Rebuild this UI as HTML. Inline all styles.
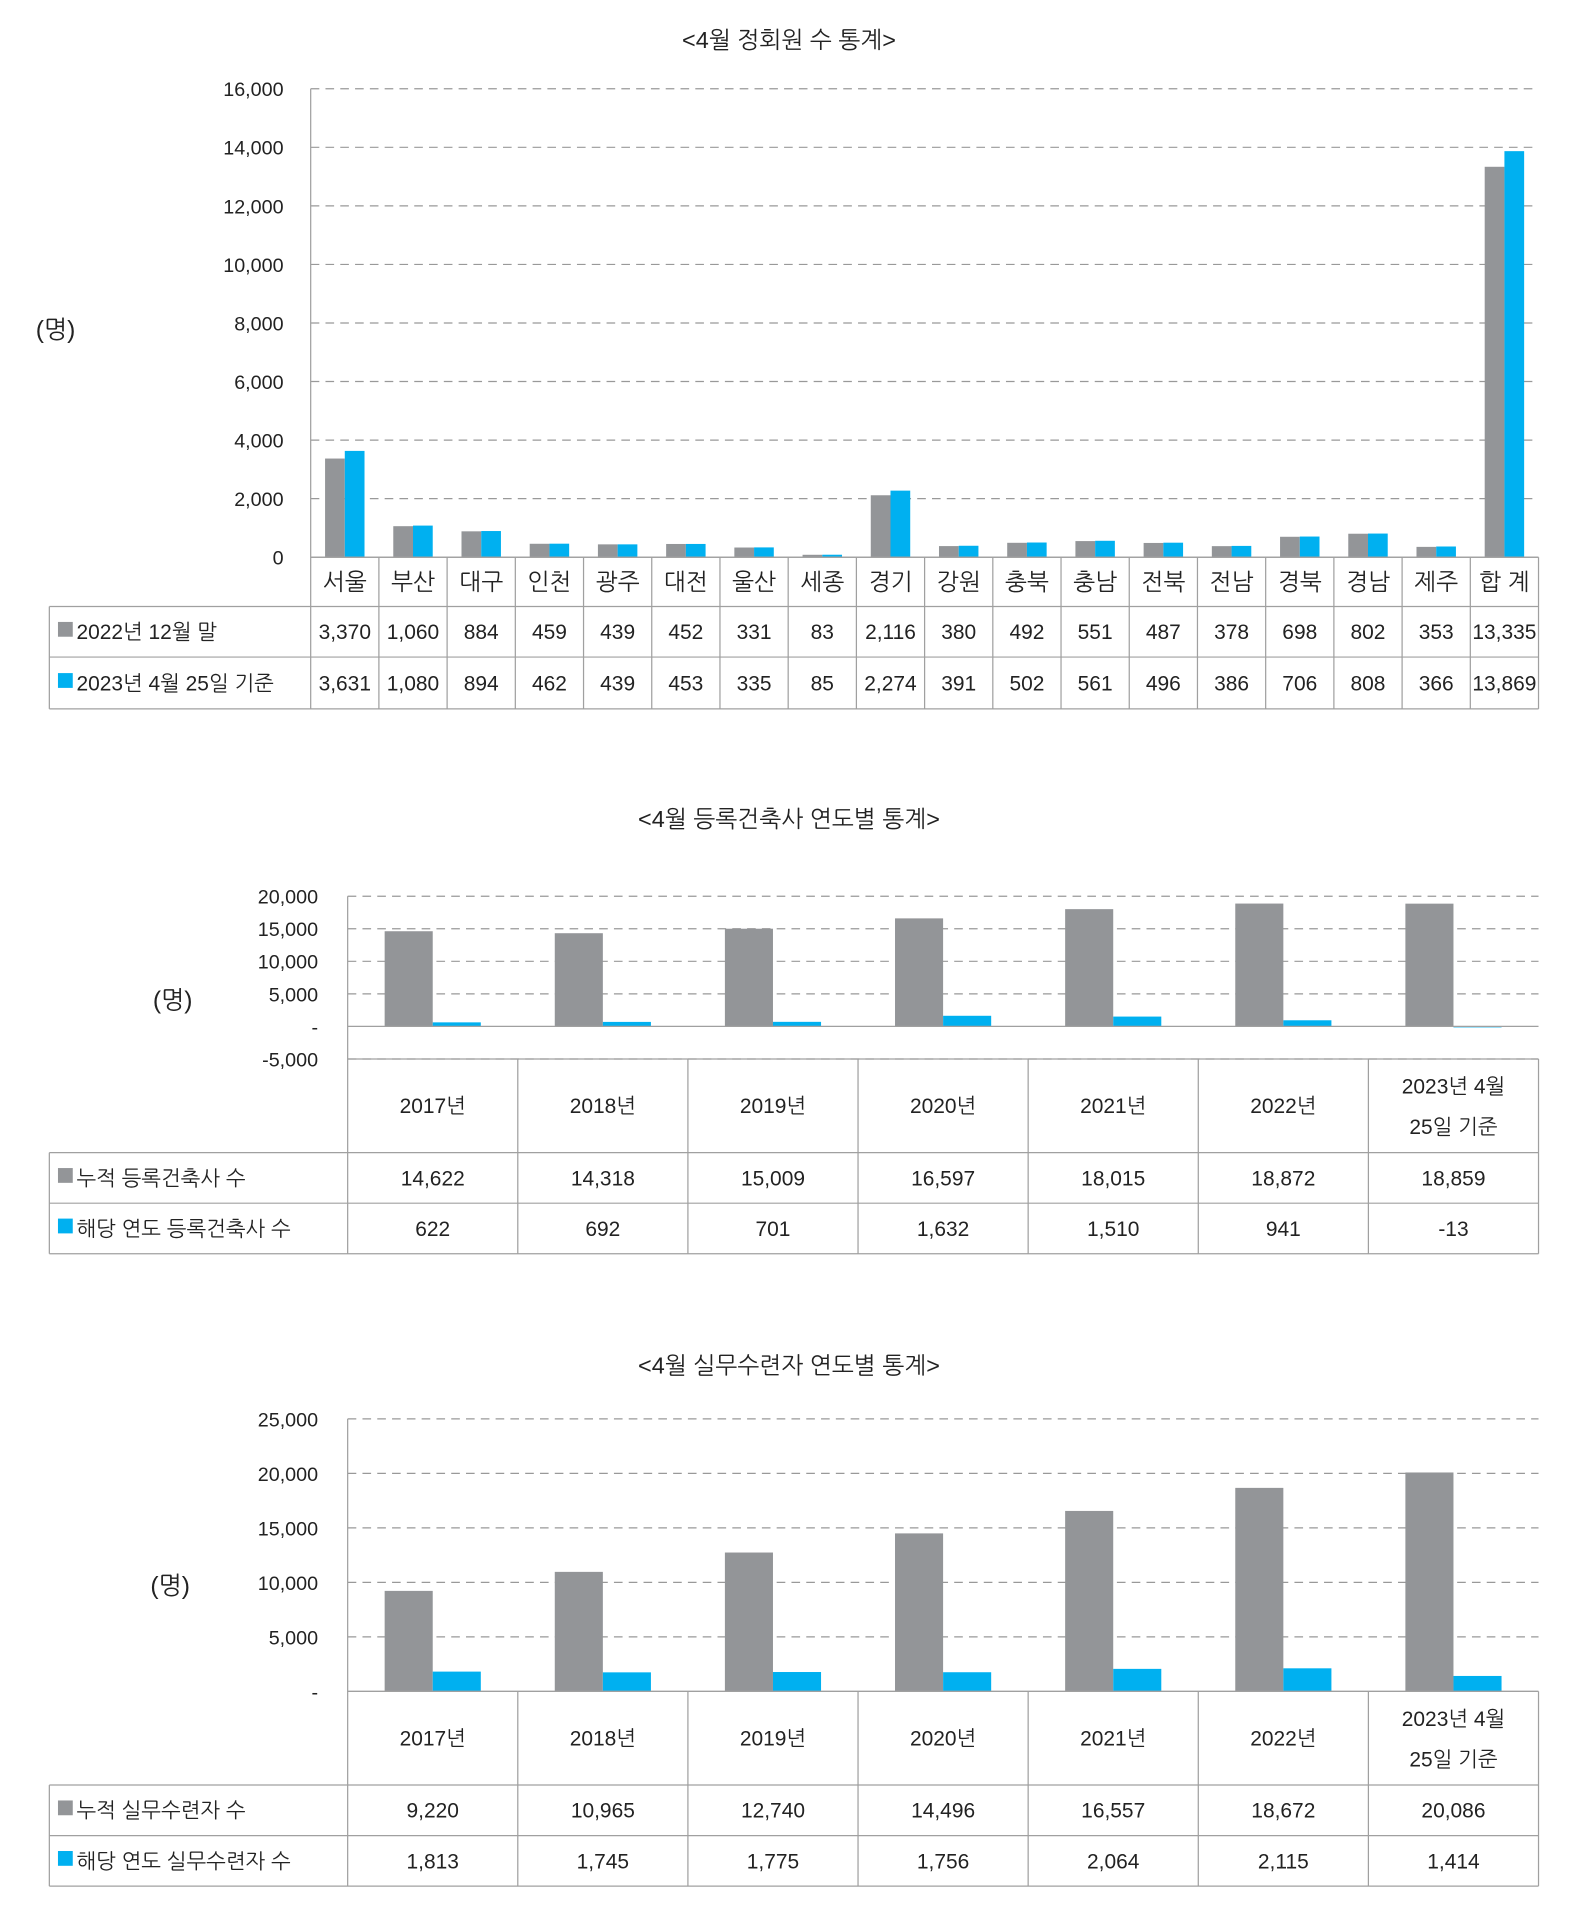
<!DOCTYPE html>
<html><head><meta charset="utf-8"><style>
html,body{margin:0;padding:0;background:#fff;}
svg{display:block;font-family:"Liberation Sans","NanumGothic","Noto Sans CJK KR",sans-serif;}
</style></head><body>
<svg id="root" width="1578" height="1932" viewBox="0 0 1280 1567.2" xmlns="http://www.w3.org/2000/svg"></svg>
<script>
// Chart 1 data
const regions = ["서울","부산","대구","인천","광주","대전","울산","세종","경기","강원","충북","충남","전북","전남","경북","경남","제주","합 계"];
const members2022 = [3370,1060,884,459,439,452,331,83,2116,380,492,551,487,378,698,802,353,13335];
const members2023 = [3631,1080,894,462,439,453,335,85,2274,391,502,561,496,386,706,808,366,13869];
const ticks1 = [0,2000,4000,6000,8000,10000,12000,14000,16000];
// Chart 2 data
const years = ["2017년","2018년","2019년","2020년","2021년","2022년","2023년 4월|25일 기준"];
const archCum = [14622,14318,15009,16597,18015,18872,18859];
const archYear = [622,692,701,1632,1510,941,-13];
const ticks2 = [-5000,0,5000,10000,15000,20000];
// Chart 3 data
const traineeCum = [9220,10965,12740,14496,16557,18672,20086];
const traineeYear = [1813,1745,1775,1756,2064,2115,1414];
const ticks3 = [0,5000,10000,15000,20000,25000];

const NS="http://www.w3.org/2000/svg";
const root=document.getElementById('root');
const GRAY="#939598", BLUE="#00b0f0", LINE="#a0a0a0";
function el(tag,attrs,parent,text){
  const e=document.createElementNS(NS,tag);
  for(const k in attrs) e.setAttribute(k,attrs[k]);
  if(text!==undefined) e.textContent=text;
  (parent||root).appendChild(e);
  return e;
}
function fmt(v){ if(v===0) return "-"; return v.toLocaleString('en-US'); }

function line(x1,y1,x2,y2,name,dash,color){
  const l=el('line',{x1,y1,x2,y2,stroke:color||LINE,'stroke-width':1});
  if(dash) l.setAttribute('stroke-dasharray','7,5');
  
  
  return l;
}
function text(x,y,s,size,anchor,name,color){
  const t=el('text',{x,y,'font-size':size,'text-anchor':anchor||'middle',fill:color||'#222'},null,s);
  
  
  return t;
}
function legendRow(x,y,color,label,name){
  const r=el('rect',{x:x,y:y-14,width:12,height:12,fill:color});
  
  
  text(x+15,y,label,17,'start',name+'-label');
}

function chart(cfg){
  const g=el('g',{});
  
  
  const {left,right,yTop,yBot,vTop,vBot}=cfg;
  const yOf=v=>yBot-(v-vBot)/(vTop-vBot)*(yBot-yTop);
  text(640,cfg.titleY,cfg.title,19,'middle','chart-title');
  text(cfg.unitX,cfg.unitY,"(명)",20,'middle','y-axis-title');
  cfg.ticks.forEach(v=>{
    const y=yOf(v);
    if(v!==0 || cfg.zeroDash) line(left,y,1248,y,'gridline',true,'#999');
    text(cfg.tickX,y+6,cfg.fmtTick(v),16,'end','y-tick-label');
  });
  const n=cfg.cats.length, cw=(right-left)/n;
  const y0=yOf(0);
  for(let i=0;i<n;i++){
    const cx=left+cw*(i+0.5);
    [[cfg.s1,GRAY,'bar-cumulative'],[cfg.s2,BLUE,'bar-current']].forEach((s,j)=>{
      const v=s[0][i], y=yOf(v);
      const x=j===0?cx-cfg.bw:cx;
      const r=el('rect',{x:x,y:Math.min(y,y0),width:cfg.bw,height:Math.max(Math.abs(y0-y),0.8),fill:s[1]});
      
      
    });
  }
  // axes
  line(left,yTop,left,cfg.tableBot,'y-axis',false);
  line(left,y0,1248,y0,'x-axis',false);
  // table
  const hTop=cfg.headTop, r1=cfg.row1, r2=cfg.row2, bot=cfg.tableBot;
  line(left,hTop,1248,hTop,'table-line',false);
  line(40,r1,1248,r1,'table-line',false);
  line(40,r2,1248,r2,'table-line',false);
  line(40,bot,1248,bot,'table-line',false);
  line(40,r1,40,bot,'table-line',false);
  for(let i=1;i<=n;i++){ const x=left+cw*i; line(x,hTop,x,bot,'table-line',false); }
  for(let i=0;i<n;i++){
    const cx=left+cw*(i+0.5);
    const parts=cfg.cats[i].split('|');
    if(parts.length===1) text(cx,(hTop+r1)/2+cfg.catSize*0.35,parts[0],cfg.catSize,'middle','category-label');
    else { text(cx,(hTop+r1)/2-10,parts[0],cfg.catSize,'middle','category-label'); text(cx,(hTop+r1)/2+23,parts[1],cfg.catSize,'middle','category-label'); }
    text(cx,(r1+r2)/2+6,cfg.s1[i].toLocaleString('en-US'),17,'middle','value-cumulative');
    text(cx,(r2+bot)/2+6,cfg.s2[i].toLocaleString('en-US'),17,'middle','value-current');
  }
  legendRow(47,(r1+r2)/2+6,GRAY,cfg.l1,'legend-cumulative');
  legendRow(47,(r2+bot)/2+6,BLUE,cfg.l2,'legend-current');
}

chart({name:'members-chart',title:'<4월 정회원 수 통계>',titleY:39,unitX:45,unitY:274,
  left:252,right:1248,yTop:72,yBot:452,vTop:16000,vBot:0,ticks:ticks1,tickX:230,
  fmtTick:v=>v.toLocaleString('en-US'),zeroDash:false,
  cats:regions,s1:members2022,s2:members2023,bw:16,catSize:19,
  headTop:452,row1:492,row2:533,tableBot:575,l1:'2022년 12월 말',l2:'2023년 4월 25일 기준'});

chart({name:'architects-chart',title:'<4월 등록건축사 연도별 통계>',titleY:671,unitX:140,unitY:818,
  left:282,right:1248,yTop:727,yBot:859,vTop:20000,vBot:-5000,ticks:ticks2,tickX:258,
  fmtTick:fmt,zeroDash:false,
  cats:years,s1:archCum,s2:archYear,bw:39,catSize:17,
  headTop:859,row1:935,row2:976,tableBot:1017,l1:'누적 등록건축사 수',l2:'해당 연도 등록건축사 수'});

chart({name:'trainees-chart',title:'<4월 실무수련자 연도별 통계>',titleY:1114,unitX:138,unitY:1293,
  left:282,right:1248,yTop:1151,yBot:1372,vTop:25000,vBot:0,ticks:ticks3,tickX:258,
  fmtTick:fmt,zeroDash:false,
  cats:years,s1:traineeCum,s2:traineeYear,bw:39,catSize:17,
  headTop:1372,row1:1448,row2:1489,tableBot:1530,l1:'누적 실무수련자 수',l2:'해당 연도 실무수련자 수'});
</script>
</body></html>
